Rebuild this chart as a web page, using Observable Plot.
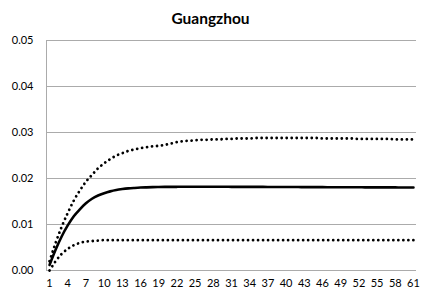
<!DOCTYPE html>
<html><head><meta charset="utf-8">
<script src="https://cdn.jsdelivr.net/npm/d3@7"></script>
<script src="https://cdn.jsdelivr.net/npm/@observablehq/plot@0.6"></script>
<style>
body{margin:0;background:#fff;font-family:Lato,"Open Sans",sans-serif;}
#title{height:30px;width:421px;text-align:center;font-weight:bold;font-size:15.5px;line-height:36px;color:#000;}
</style></head><body>
<div id="title">Guangzhou</div>
<div id="chart"></div>
<script>
const periods = d3.range(1, 62);
const xTicks = d3.range(1, 62, 3);
const yTicks = [0, 0.01, 0.02, 0.03, 0.04, 0.05];
const central = [0.0012,0.0045,0.0074,0.0098,0.0118,0.0133,0.0146,0.0156,0.0163,0.0168,
0.0172,0.0175,0.0177,0.01785,0.01795,0.01803,0.01808,0.01812,0.01815,0.01817,
0.01818,0.01819,0.01820,0.01820,0.01820,0.01820,0.01820,0.01820,0.01820,0.01820,
0.01819,0.01819,0.01818,0.01818,0.01817,0.01817,0.01816,0.01816,0.01815,0.01815,
0.01814,0.01814,0.01813,0.01813,0.01812,0.01812,0.01811,0.01811,0.01810,0.01810,
0.01809,0.01809,0.01808,0.01808,0.01807,0.01807,0.01806,0.01806,0.01805,0.01805,0.01804];
const upper = [0.0020,0.0060,0.0095,0.0125,0.0152,0.0174,0.0193,0.0208,0.0222,0.0233,
0.0242,0.0250,0.0255,0.0260,0.0263,0.0266,0.0268,0.0270,0.0271,0.0273,
0.0276,0.0279,0.0281,0.0282,0.0283,0.0284,0.0284,0.0285,0.0285,0.0286,
0.0286,0.0287,0.0287,0.0287,0.0288,0.0288,0.0288,0.0288,0.0288,0.0288,
0.0288,0.0288,0.0288,0.0288,0.0288,0.0287,0.0287,0.0287,0.0287,0.0287,
0.0287,0.0286,0.0286,0.0286,0.0286,0.0286,0.0286,0.0285,0.0285,0.0285,0.0285];
const lower = [0.0000,0.0020,0.0036,0.0047,0.0055,0.0060,0.0063,0.0064,0.0065,0.0066,
0.0066,0.0066,0.0066,0.0066,0.0066,0.0066,0.0066,0.0066,0.0066,0.0066,
0.0066,0.0066,0.0066,0.0066,0.0066,0.0066,0.0066,0.0066,0.0066,0.0066,
0.0066,0.0066,0.0066,0.0066,0.0066,0.0066,0.0066,0.0066,0.0066,0.0066,
0.0066,0.0066,0.0066,0.0066,0.0066,0.0066,0.0066,0.0066,0.0066,0.0066,
0.0066,0.0066,0.0066,0.0066,0.0066,0.0066,0.0066,0.0066,0.0066,0.0066,0.0066];

const rows = (arr) => periods.map((p, i) => ({p, v: arr[i]}));
const grid = "#ababab";
const chart = Plot.plot({
  width: 421, height: 271,
  marginLeft: 46, marginRight: 5, marginTop: 10, marginBottom: 31,
  style: {fontFamily: "Lato, 'Open Sans', sans-serif", fontSize: "11px", color: "#000", background: "#fff"},
  x: {domain: [0.5, 61.5], ticks: xTicks, tickSize: 0, tickPadding: 9, label: null, tickFormat: d => String(d)},
  y: {domain: [0, 0.05], ticks: yTicks, tickSize: 0, tickPadding: 13, label: null, tickFormat: d3.format(".2f")},
  marks: [
    Plot.ruleY(yTicks, {stroke: grid, strokeWidth: 1}),
    Plot.ruleX([0.5], {stroke: grid, strokeWidth: 1}),
    Plot.line(rows(upper), {x: "p", y: "v", stroke: "#000", strokeWidth: 2.8, strokeDasharray: "0.01 5", strokeLinecap: "round", curve: "monotone-x"}),
    Plot.line(rows(lower), {x: "p", y: "v", stroke: "#000", strokeWidth: 2.8, strokeDasharray: "0.01 5", strokeLinecap: "round", curve: "monotone-x"}),
    Plot.line(rows(central), {x: "p", y: "v", stroke: "#000", strokeWidth: 2.6, curve: "monotone-x"})
  ]
});
document.getElementById("chart").appendChild(chart);
</script>
</body></html>
